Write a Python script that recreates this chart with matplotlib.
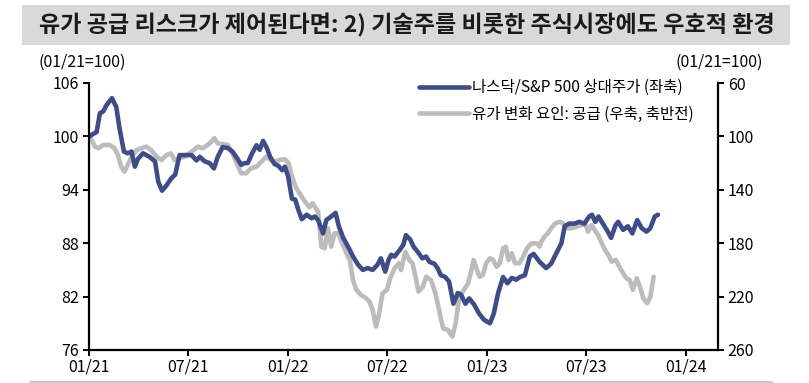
import matplotlib
matplotlib.use("Agg")
import matplotlib.pyplot as plt
import matplotlib.dates as mdates
from matplotlib.patches import Rectangle
from matplotlib.lines import Line2D
import pandas as pd

plt.rcParams['font.family'] = ['Noto Sans CJK KR', 'DejaVu Sans']

title = "유가 공급 리스크가 제어된다면: 2) 기술주를 비롯한 주식시장에도 우호적 환경"
label_nasdaq = "나스닥/S&P 500 상대주가 (좌축)"
label_oil = "유가 변화 요인: 공급 (우축, 축반전)"
unit_label = "(01/21=100)"

nasdaq_dates = [
    "2021-01-01", "2021-01-15", "2021-01-21", "2021-01-27", "2021-02-02", "2021-02-12",
    "2021-02-20", "2021-02-26", "2021-03-06", "2021-03-13", "2021-03-20", "2021-03-26",
    "2021-04-01", "2021-04-10", "2021-04-22", "2021-05-02", "2021-05-08", "2021-05-15",
    "2021-05-23", "2021-06-01", "2021-06-08", "2021-06-16", "2021-06-25", "2021-07-08",
    "2021-07-17", "2021-07-23", "2021-08-01", "2021-08-10", "2021-08-18", "2021-08-25",
    "2021-09-03", "2021-09-12", "2021-09-21", "2021-09-30", "2021-10-07", "2021-10-13",
    "2021-10-19", "2021-10-27", "2021-11-04", "2021-11-10", "2021-11-16", "2021-11-23",
    "2021-11-29", "2021-12-07", "2021-12-14", "2021-12-21", "2021-12-26", "2022-01-01",
    "2022-01-08", "2022-01-14", "2022-01-20", "2022-01-26", "2022-02-04", "2022-02-13",
    "2022-02-19", "2022-02-25", "2022-03-06", "2022-03-12", "2022-03-21", "2022-03-29",
    "2022-04-04", "2022-04-12", "2022-04-21", "2022-04-30", "2022-05-09", "2022-05-18",
    "2022-05-27", "2022-06-05", "2022-06-14", "2022-06-20", "2022-06-28", "2022-07-04",
    "2022-07-09", "2022-07-15", "2022-07-24", "2022-07-31", "2022-08-05", "2022-08-13",
    "2022-08-19", "2022-08-27", "2022-09-04", "2022-09-11", "2022-09-17", "2022-09-26",
    "2022-10-02", "2022-10-08", "2022-10-16", "2022-10-23", "2022-10-31", "2022-11-08",
    "2022-11-14", "2022-11-22", "2022-11-29", "2022-12-08", "2022-12-17", "2022-12-26",
    "2023-01-06", "2023-01-13", "2023-01-21", "2023-01-30", "2023-02-07", "2023-02-15",
    "2023-02-23", "2023-03-02", "2023-03-11", "2023-03-20", "2023-03-27", "2023-04-07",
    "2023-04-19", "2023-04-28", "2023-05-08", "2023-05-17", "2023-05-23", "2023-05-31",
    "2023-06-10", "2023-06-19", "2023-06-28", "2023-07-07", "2023-07-12", "2023-07-18",
    "2023-07-24", "2023-08-01", "2023-08-10", "2023-08-16", "2023-08-24", "2023-08-29",
    "2023-09-07", "2023-09-16", "2023-09-24", "2023-10-03", "2023-10-11", "2023-10-20",
    "2023-10-27", "2023-11-04", "2023-11-10",
]
nasdaq_values = [
    100.0, 100.5, 102.6, 102.8, 103.5, 104.3,
    103.3, 100.9, 98.3, 98.1, 98.3, 96.6,
    97.5, 98.1, 97.7, 97.2, 94.9, 93.9,
    94.5, 95.3, 95.7, 97.9, 97.9, 97.9,
    97.3, 97.7, 97.2, 97.0, 96.4, 97.7,
    98.8, 98.7, 98.3, 97.5, 96.8, 97.0,
    97.0, 98.1, 99.0, 98.5, 99.5, 98.7,
    97.7, 96.9, 96.7, 96.2, 96.6, 95.5,
    93.0, 92.9, 91.7, 90.7, 91.2, 90.8,
    91.0, 90.6, 89.1, 90.6, 91.0, 91.4,
    89.9, 88.6, 87.6, 86.5, 85.6, 85.0,
    85.2, 85.0, 85.6, 86.3, 84.8, 86.1,
    86.7, 86.5, 87.2, 87.8, 88.9, 88.4,
    87.6, 87.0, 86.3, 86.5, 85.9, 85.7,
    85.2, 84.4, 84.2, 83.7, 81.2, 82.4,
    82.2, 81.2, 81.8, 81.1, 80.1, 79.4,
    79.0, 80.1, 82.4, 84.2, 83.5, 84.1,
    83.9, 84.2, 84.4, 86.5, 86.8, 85.9,
    85.2, 85.7, 86.9, 88.0, 89.9, 90.2,
    90.2, 90.4, 90.2, 91.0, 91.2, 90.4,
    91.0, 90.2, 89.3, 88.6, 90.0, 90.4,
    89.5, 89.9, 89.1, 90.6, 89.7, 89.3,
    89.7, 91.0, 91.2,
]

oil_dates = [
    "2021-01-01", "2021-01-04", "2021-01-12", "2021-01-18", "2021-01-27", "2021-02-08",
    "2021-02-17", "2021-02-23", "2021-03-01", "2021-03-07", "2021-03-13", "2021-03-20",
    "2021-03-29", "2021-04-07", "2021-04-16", "2021-04-25", "2021-05-05", "2021-05-14",
    "2021-05-23", "2021-05-31", "2021-06-07", "2021-06-16", "2021-06-25", "2021-07-08",
    "2021-07-20", "2021-07-29", "2021-08-10", "2021-08-19", "2021-08-25", "2021-09-03",
    "2021-09-12", "2021-09-21", "2021-09-30", "2021-10-07", "2021-10-16", "2021-10-25",
    "2021-11-04", "2021-11-13", "2021-11-22", "2021-11-30", "2021-12-07", "2021-12-16",
    "2021-12-26", "2022-01-02", "2022-01-08", "2022-01-16", "2022-01-24", "2022-02-01",
    "2022-02-09", "2022-02-15", "2022-02-25", "2022-03-03", "2022-03-09", "2022-03-15",
    "2022-03-21", "2022-03-27", "2022-04-03", "2022-04-09", "2022-04-18", "2022-04-24",
    "2022-04-30", "2022-05-06", "2022-05-15", "2022-05-24", "2022-05-30", "2022-06-05",
    "2022-06-11", "2022-06-17", "2022-06-23", "2022-07-01", "2022-07-07", "2022-07-15",
    "2022-07-23", "2022-07-27", "2022-08-04", "2022-08-11", "2022-08-17", "2022-08-24",
    "2022-08-28", "2022-09-05", "2022-09-11", "2022-09-20", "2022-09-28", "2022-10-06",
    "2022-10-12", "2022-10-21", "2022-10-29", "2022-11-04", "2022-11-10", "2022-11-17",
    "2022-11-27", "2022-12-03", "2022-12-07", "2022-12-12", "2022-12-18", "2022-12-24",
    "2022-12-30", "2023-01-06", "2023-01-12", "2023-01-18", "2023-01-24", "2023-01-30",
    "2023-02-04", "2023-02-09", "2023-02-15", "2023-02-21", "2023-03-01", "2023-03-08",
    "2023-03-15", "2023-03-23", "2023-04-02", "2023-04-07", "2023-04-10", "2023-04-16",
    "2023-04-22", "2023-04-28", "2023-05-06", "2023-05-14", "2023-05-20", "2023-05-26",
    "2023-06-04", "2023-06-14", "2023-06-23", "2023-06-29", "2023-07-05", "2023-07-11",
    "2023-07-17", "2023-07-23", "2023-07-30", "2023-08-05", "2023-08-11", "2023-08-17",
    "2023-08-25", "2023-08-31", "2023-09-07", "2023-09-13", "2023-09-19", "2023-09-25",
    "2023-10-02", "2023-10-08", "2023-10-14", "2023-10-21", "2023-10-27", "2023-11-02",
]
oil_values = [
    100.0, 101.4, 107.7, 108.9, 106.4, 106.4,
    108.9, 113.9, 122.7, 126.4, 121.4, 115.2,
    110.2, 108.9, 107.7, 110.2, 115.2, 117.7,
    113.9, 112.7, 117.7, 116.4, 115.2, 111.5,
    107.7, 108.9, 105.2, 101.4, 105.2, 105.7,
    106.4, 112.7, 121.4, 127.6, 127.6, 123.9,
    122.7, 118.9, 115.2, 117.7, 118.9, 117.7,
    117.1, 120.1, 130.2, 138.9, 143.9, 148.9,
    153.1, 150.1, 156.4, 182.6, 183.8, 168.8,
    182.6, 172.6, 172.6, 178.9, 187.6, 192.6,
    207.6, 215.0, 218.8, 221.3, 223.8, 230.0,
    242.5, 232.5, 217.5, 215.0, 206.3, 198.8,
    195.0, 200.1, 186.4, 192.6, 195.0, 207.6,
    216.3, 212.6, 205.1, 207.6, 217.5, 232.5,
    243.7, 245.0, 250.0, 240.0, 222.5, 216.3,
    210.0, 200.1, 192.6, 198.8, 205.1, 203.8,
    195.0, 191.3, 192.6, 197.6, 195.0, 183.8,
    182.6, 192.6, 187.6, 195.0, 195.0, 190.1,
    183.8, 180.1, 180.1, 182.6, 178.9, 175.1,
    172.6, 168.8, 165.1, 163.9, 165.1, 168.8,
    168.8, 167.6, 166.4, 165.1, 171.4, 166.4,
    170.1, 173.8, 180.1, 185.1, 188.8, 193.8,
    192.6, 197.6, 202.5, 206.3, 207.6, 215.0,
    206.3, 212.6, 221.3, 225.0, 220.1, 205.1,
]

left_ticks = [76, 82, 88, 94, 100, 106]
right_ticks = [60, 100, 140, 180, 220, 260]
x_tick_dates = ["2021-01-01", "2021-07-01", "2022-01-01", "2022-07-01",
                "2023-01-01", "2023-07-01", "2024-01-01"]
x_tick_labels = ["01/21", "07/21", "01/22", "07/22", "01/23", "07/23", "01/24"]

navy = "#3e4d88"
grey = "#bcbcbc"

W, H = 809, 383
fig = plt.figure(figsize=(W / 100, H / 100), dpi=100)

# title band
fig.patches.append(Rectangle((22 / W, 1 - 45 / H), (790 - 22) / W, 40 / H,
                             transform=fig.transFigure, facecolor="#d9d9d9",
                             edgecolor="none", zorder=0))
fig.text(407 / W, 1 - 25 / H, title, ha="center", va="center", fontsize=16.6,
         fontweight="bold", color="#1a1a1a")
# bottom rule
fig.add_artist(Line2D([30 / W, 772 / W], [1 - 382 / H, 1 - 382 / H],
                      transform=fig.transFigure, color="#bfbfbf", lw=1.2))

ax = fig.add_axes([89 / W, 1 - 350 / H, (718 - 89) / W, (350 - 83) / H])
ax2 = ax.twinx()

nd = pd.to_datetime(nasdaq_dates)
od = pd.to_datetime(oil_dates)
ln1, = ax.plot(nd, nasdaq_values, color=navy, lw=3.3, solid_joinstyle="round",
               solid_capstyle="round", label=label_nasdaq)
ln2, = ax2.plot(od, oil_values, color=grey, lw=3.3, solid_joinstyle="round",
                solid_capstyle="round", label=label_oil)

ax.set_zorder(ax2.get_zorder() + 1)
ax.patch.set_visible(False)

ax.set_xlim(pd.Timestamp("2021-01-01"), pd.Timestamp("2024-02-28"))
ax.set_ylim(76, 106)
ax2.set_ylim(260, 60)

ax.set_yticks(left_ticks)
ax2.set_yticks(right_ticks)
ax.set_xticks(pd.to_datetime(x_tick_dates))
ax.set_xticklabels(x_tick_labels)

for a in (ax, ax2):
    a.spines["top"].set_visible(False)
    for s in ("left", "right", "bottom"):
        a.spines[s].set_linewidth(1.6)
        a.spines[s].set_color("black")
    a.tick_params(axis="both", direction="out", length=4, width=1.4,
                  labelsize=11.5, colors="black", pad=3)
ax.spines["right"].set_visible(False)
ax2.spines["left"].set_visible(False)
ax2.spines["bottom"].set_visible(False)
ax.tick_params(axis="x", pad=2)

fig.text(38 / W, 1 - 62 / H, unit_label, ha="left", va="center", fontsize=11.5)
fig.text(763 / W, 1 - 62 / H, unit_label, ha="right", va="center", fontsize=11.5)

leg = ax.legend(handles=[ln1, ln2], loc="upper left",
                bbox_to_anchor=((408 - 89) / (718 - 89), 1.055),
                frameon=False, fontsize=11.2, handlelength=3.2, handletextpad=0.2,
                labelspacing=0.6, borderpad=0.2)

fig.savefig("out.png", dpi=100)
